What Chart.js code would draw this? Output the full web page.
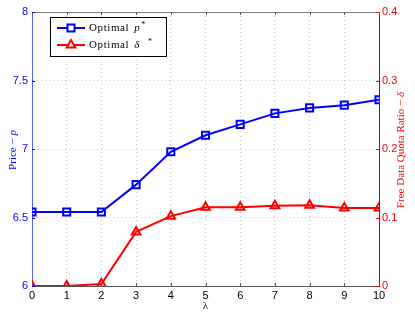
<!DOCTYPE html>
<html><head><meta charset="utf-8">
<script src="https://cdn.jsdelivr.net/npm/chart.js@4"></script>
<style>html,body{margin:0;padding:0;background:#fff}#wrap{width:415px;height:313px}</style>
</head><body><div id="wrap"><canvas id="c" width="415" height="313"></canvas></div>
<script>
const lambdas = [0,1,2,3,4,5,6,7,8,9,10];
const priceP = [6.54,6.54,6.54,6.74,6.98,7.10,7.18,7.26,7.30,7.32,7.36];
const deltaQ = [0,0,0.003,0.079,0.102,0.115,0.115,0.117,0.118,0.114,0.114];
const leftTicks = [6,6.5,7,7.5,8];
const rightTicks = [0,0.1,0.2,0.3,0.4];
const xTicks = lambdas;

const BLUE = '#0000ff', RED = '#ff0000';
const SANS = '"Liberation Sans", Arial, sans-serif';
const SERIF = '"Liberation Serif", "DejaVu Serif", serif';

function drawMixed(ctx, parts, x, y, align) {
  let total = 0;
  parts.forEach(p => { ctx.font = p.f; total += ctx.measureText(p.t).width + (p.sp||0); });
  let cx = align === 'center' ? x - total/2 : x;
  parts.forEach(p => {
    ctx.font = p.f;
    ctx.fillText(p.t, cx, y + (p.dy||0));
    cx += ctx.measureText(p.t).width + (p.sp||0);
  });
}

const extras = {
  id: 'extras',
  afterDraw(chart) {
    const ctx = chart.ctx, a = chart.chartArea;
    const sx = chart.scales.x, sy = chart.scales.y, sy2 = chart.scales.y2;
    ctx.save();
    ctx.strokeStyle = '#808080'; ctx.lineWidth = 1;
    ctx.beginPath(); ctx.moveTo(a.left, a.top + 0.5); ctx.lineTo(a.right, a.top + 0.5); ctx.stroke();
    ctx.strokeStyle = '#555';
    xTicks.forEach(v => {
      const px = Math.round(sx.getPixelForValue(v)) + 0.5;
      ctx.beginPath(); ctx.moveTo(px, a.bottom); ctx.lineTo(px, a.bottom - 3); ctx.stroke();
      ctx.beginPath(); ctx.moveTo(px, a.top); ctx.lineTo(px, a.top + 3); ctx.stroke();
    });
    ctx.strokeStyle = BLUE;
    leftTicks.forEach(v => {
      const py = Math.round(sy.getPixelForValue(v)) + 0.5;
      ctx.beginPath(); ctx.moveTo(a.left, py); ctx.lineTo(a.left + 3, py); ctx.stroke();
    });
    ctx.strokeStyle = RED;
    rightTicks.forEach(v => {
      const py = Math.round(sy2.getPixelForValue(v)) + 0.5;
      ctx.beginPath(); ctx.moveTo(a.right, py); ctx.lineTo(a.right - 3, py); ctx.stroke();
    });
    ctx.textBaseline = 'middle';
    ctx.fillStyle = BLUE;
    ctx.save(); ctx.translate(13, 150); ctx.rotate(-Math.PI/2);
    drawMixed(ctx, [{t:'Price − ', f:'11px '+SERIF},{t:'p', f:'italic 11px '+SERIF}], 0, 0, 'center');
    ctx.restore();
    ctx.fillStyle = RED;
    ctx.save(); ctx.translate(401, 150); ctx.rotate(-Math.PI/2);
    drawMixed(ctx, [{t:'Free Data Quota Ratio − ', f:'11px '+SERIF},{t:'δ', f:'italic 11px '+SERIF}], 0, 0, 'center');
    ctx.restore();
    ctx.fillStyle = '#000';
    drawMixed(ctx, [{t:'λ', f:'11px '+SERIF}], (a.left + a.right)/2, 306, 'center');
    // legend
    const lx = 50, ly = 17, lw = 116, lh = 39;
    ctx.fillStyle = '#fff'; ctx.fillRect(lx, ly, lw, lh);
    ctx.strokeStyle = '#000'; ctx.lineWidth = 1;
    ctx.strokeRect(lx + 0.5, ly + 0.5, lw, lh);
    const rows = [
      {ds: chart.data.datasets[0], y: 28, parts: [{t:'Optimal', f:'11px '+SERIF, sp:5},{t:'p', f:'italic 11px '+SERIF, sp:1},{t:'*', f:'8px '+SERIF, dy:-3}]},
      {ds: chart.data.datasets[1], y: 45, parts: [{t:'Optimal', f:'11px '+SERIF, sp:5},{t:'δ', f:'italic 11px '+SERIF, sp:8},{t:'*', f:'8px '+SERIF, dy:-3}]}
    ];
    rows.forEach(r => {
      ctx.strokeStyle = r.ds.borderColor; ctx.lineWidth = 2;
      ctx.beginPath(); ctx.moveTo(57, r.y); ctx.lineTo(85, r.y); ctx.stroke();
      ctx.fillStyle = '#fff';
      Chart.helpers.drawPoint(ctx, {pointStyle: r.ds.pointStyle, radius: 5, borderWidth: 2}, 71, r.y);
      ctx.fillStyle = '#000';
      ctx.textBaseline = 'middle';
      ctx.letterSpacing = '0.6px';
      drawMixed(ctx, r.parts, 89, r.y, 'left');
      ctx.letterSpacing = '0px';
    });
    ctx.restore();
  }
};

new Chart(document.getElementById('c'), {
  type: 'line',
  data: {
    datasets: [
      {label: 'Optimal p*', data: lambdas.map((x,i)=>({x, y: priceP[i]})), yAxisID: 'y',
       borderColor: BLUE, backgroundColor: 'rgba(0,0,0,0)', borderWidth: 2, pointStyle: 'rect',
       pointRadius: 5, pointBorderWidth: 2, pointBorderColor: BLUE, pointBackgroundColor: 'rgba(0,0,0,0)', tension: 0},
      {label: 'Optimal δ *', data: lambdas.map((x,i)=>({x, y: deltaQ[i]})), yAxisID: 'y2',
       borderColor: RED, backgroundColor: 'rgba(0,0,0,0)', borderWidth: 2, pointStyle: 'triangle',
       pointRadius: 5, pointBorderWidth: 2, pointBorderColor: RED, pointBackgroundColor: 'rgba(0,0,0,0)', tension: 0}
    ]
  },
  options: {
    responsive: false, animation: false, devicePixelRatio: 1,
    layout: {padding: {top: 12, left: 0, right: 0, bottom: 0}},
    plugins: {legend: {display: false}, tooltip: {enabled: false}},
    elements: {point: {hitRadius: 0}},
    scales: {
      x: {type: 'linear', min: 0, max: 10,
          afterFit: s => { s.height = 27; },
          afterBuildTicks: s => { s.ticks = xTicks.map(v => ({value: v})); },
          ticks: {color: '#000', font: {family: SANS, size: 11}, padding: 3, maxRotation: 0, autoSkip: false},
          grid: {color: '#c8c8c8', drawTicks: false},
          border: {color: '#555', width: 1, dash: [1, 3]}},
      y: {position: 'left', min: 6, max: 8,
          afterFit: s => { s.width = 32; },
          afterBuildTicks: s => { s.ticks = leftTicks.map(v => ({value: v})); },
          ticks: {color: BLUE, font: {family: SANS, size: 11}, padding: 4, callback: v => String(v)},
          grid: {color: '#c0c0f4', drawTicks: false},
          border: {color: '#6060ff', width: 1, dash: [1, 3]}},
      y2: {position: 'right', min: 0, max: 0.4,
          afterFit: s => { s.width = 36; },
          afterBuildTicks: s => { s.ticks = rightTicks.map(v => ({value: v})); },
          ticks: {color: RED, font: {family: SANS, size: 11}, padding: 3, callback: v => String(Math.round(v*10)/10)},
          grid: {drawOnChartArea: false, drawTicks: false},
          border: {color: '#900080', width: 1}}
    }
  },
  plugins: [extras]
});
</script></body></html>
